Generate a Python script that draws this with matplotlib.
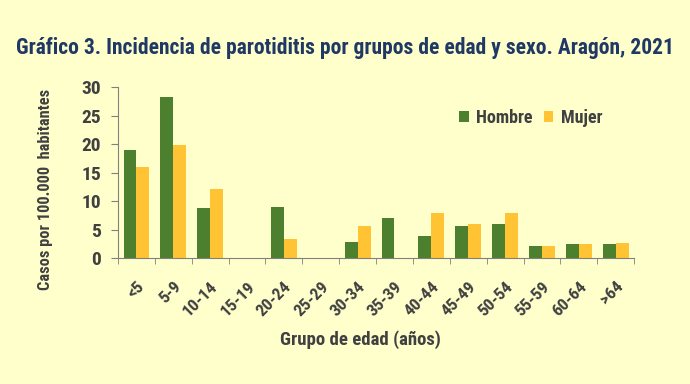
import numpy as np
import matplotlib.pyplot as plt
from matplotlib import font_manager

groups = ['<5', '5-9', '10-14', '15-19', '20-24', '25-29', '30-34', '35-39',
          '40-44', '45-49', '50-54', '55-59', '60-64', '>64']
hombre = [18.9, 28.3, 8.8, 0, 9.0, 0, 2.8, 7.0, 3.8, 5.6, 5.9, 2.1, 2.4, 2.4]
mujer = [15.9, 19.8, 12.2, 0, 3.3, 0, 5.6, 0, 7.9, 5.9, 7.9, 2.1, 2.4, 2.7]

# narrow font, like Arial Narrow in the original
names = {f.name for f in font_manager.fontManager.ttflist}
narrow = 'DejaVu Sans'
for cand in ['Liberation Sans Narrow', 'Arial Narrow', 'Roboto Condensed', 'Archivo Narrow', 'PT Sans Narrow']:
    if cand in names:
        narrow = cand
        break
plt.rcParams['font.family'] = [narrow, 'DejaVu Sans']

bg = '#FFFFCC'
green = '#4C7F2E'
yellow = '#FFC333'
grey = '#404040'

fig = plt.figure(figsize=(6.9, 3.84), dpi=100, facecolor=bg)
ax = fig.add_axes([0.171, 0.328, 0.748, 0.445], facecolor=bg)

x = np.arange(len(groups))
w = 0.35
ax.bar(x - w / 2, hombre, w, color=green, label='Hombre')
ax.bar(x + w / 2, mujer, w, color=yellow, label='Mujer')

ax.set_xlim(-0.5, len(groups) - 0.5)
ax.set_ylim(0, 30)
ax.set_yticks(range(0, 31, 5))
ax.set_xticks(x)
ax.set_xticklabels(groups, rotation=45, ha='right', rotation_mode='anchor')
ax.set_xticks(np.arange(-0.5, len(groups)), minor=True)
ax.tick_params(axis='x', which='major', length=0, pad=15)
ax.tick_params(axis='x', which='minor', length=4, color='#808080')
ax.tick_params(axis='y', length=5, color='#808080', pad=7)
for lab in ax.get_xticklabels():
    lab.set_fontsize(12.5)
    lab.set_fontweight('bold')
    lab.set_color(grey)
for lab in ax.get_yticklabels():
    lab.set_fontsize(14)
    lab.set_fontweight('bold')
    lab.set_color(grey)

for s in ['top', 'right']:
    ax.spines[s].set_visible(False)
for s in ['left', 'bottom']:
    ax.spines[s].set_color('#808080')

ax.set_ylabel('Casos por 100.000  habitantes', fontsize=11.8, fontweight='bold', color=grey)
ax.yaxis.set_label_coords(-0.126, 0.40)
ax.set_xlabel('Grupo de edad (años)', fontsize=13.5, fontweight='bold', color=grey)
ax.xaxis.set_label_coords(0.469, -0.42)

leg = fig.legend(loc='center left', bbox_to_anchor=(450 / 690, 1 - 118 / 384), ncol=2, frameon=False,
                 borderpad=0, handlelength=0.55, handleheight=0.55, handletextpad=0.4,
                 columnspacing=0.6, prop={'weight': 'bold', 'size': 13})
for t in leg.get_texts():
    t.set_color(grey)

fig.text(0.5, 0.875, 'Gráfico 3. Incidencia de parotiditis por grupos de edad y sexo. Aragón, 2021',
         ha='center', va='center', fontsize=15.5, fontweight='bold', color='#1F3864')

fig.savefig('out.png', dpi=100, facecolor=bg)
